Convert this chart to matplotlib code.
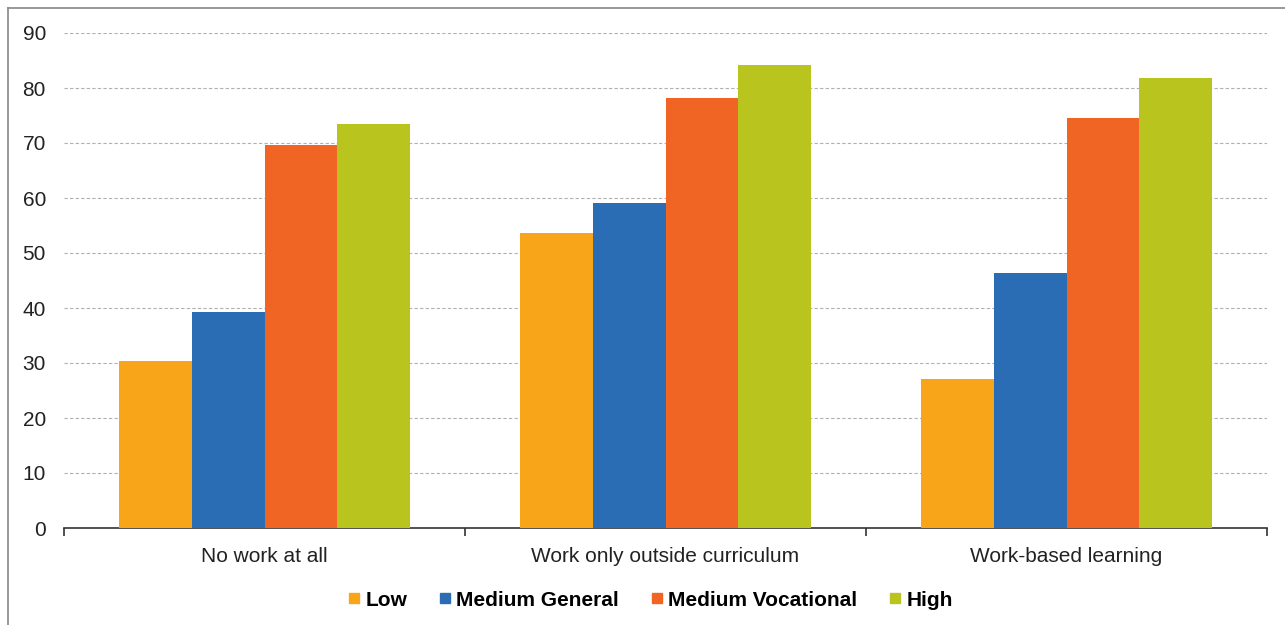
import matplotlib.pyplot as plt
import numpy as np
from matplotlib.lines import Line2D

plt.rcParams['font.family'] = ['Liberation Sans', 'DejaVu Sans']

# データ
categories = ['No work at all', 'Work only outside curriculum', 'Work-based learning']
series = ['Low', 'Medium General', 'Medium Vocational', 'High']
low = [30.3, 53.6, 27.1]
medium_general = [39.3, 59.1, 46.4]
medium_vocational = [69.6, 78.1, 74.5]
high = [73.4, 84.2, 81.8]
colors = ['#F9A51A', '#2A6DB5', '#F06424', '#B9C51E']

values = [low, medium_general, medium_vocational, high]

fig = plt.figure(figsize=(12.85, 6.25), dpi=100)
ax = fig.add_axes([64 / 1285, 1 - 528 / 625, (1267 - 64) / 1285, (528 - 33) / 625])

x = np.arange(len(categories))
w = 0.182
for i, (vals, c) in enumerate(zip(values, colors)):
    ax.bar(x + (i - 1.5) * w, vals, width=w, color=c, zorder=3)

ax.set_xlim(-0.5, 2.5)
ax.set_ylim(0, 90)
ax.set_yticks(range(0, 91, 10))
ax.set_xticks(x)
ax.set_xticklabels(categories)
ax.set_xticks([-0.5, 0.5, 1.5, 2.5], minor=True)
ax.tick_params(axis='x', which='major', length=0, pad=14, labelsize=15, colors='#222222')
ax.tick_params(axis='x', which='minor', length=6, width=1.2, color='#333333')
ax.tick_params(axis='y', length=0, pad=13, labelsize=15, colors='#222222')

ax.yaxis.grid(True, linestyle=(0, (3, 2)), color='#b0b0b0', linewidth=0.8, zorder=0)
for s in ['top', 'right', 'left']:
    ax.spines[s].set_visible(False)
ax.spines['bottom'].set_color('#333333')
ax.spines['bottom'].set_linewidth(1.2)

# 凡例
handles = [Line2D([], [], marker='s', linestyle='', markersize=7.5, color=c) for c in colors]
leg = fig.legend(handles, series, loc='center', bbox_to_anchor=(0.506, 1 - 600 / 625),
                 ncol=4, frameon=False, handlelength=0.6, handletextpad=0.25,
                 columnspacing=1.5, prop={'weight': 'bold', 'size': 15})

# 外枠
fig.add_artist(Line2D([8 / 1285, 1], [1 - 8 / 625, 1 - 8 / 625], color='#888888', linewidth=1.2))
fig.add_artist(Line2D([8 / 1285, 8 / 1285], [0, 1 - 8 / 625], color='#888888', linewidth=1.2))

fig.savefig('out.png', dpi=100)
